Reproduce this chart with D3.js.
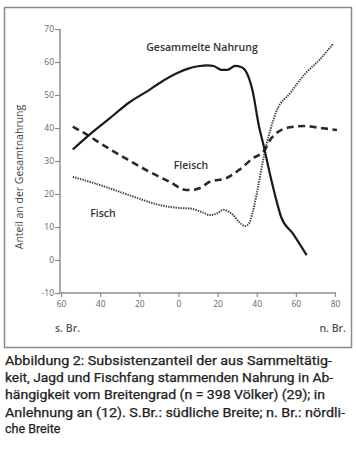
<!DOCTYPE html>
<html><head><meta charset="utf-8">
<script src="https://cdn.jsdelivr.net/npm/d3@7"></script>
<style>
html,body{margin:0;padding:0;background:#fff;}
svg{display:block;}
</style></head>
<body>
<script>
// ---- data ----
const xTicks = [-60,-40,-20,0,20,40,60,80];
const yTicks = [-10,0,10,20,30,40,50,60,70];

const latGathered = [-54,-46,-35,-25,-15,-10,0,5,10,15,18,22,25,29,32,35,38,41,44,46,49,52.5,58.5,65.5];
const gathered    = [33.5,37.7,43,47.8,51.5,53.5,56.8,58,58.7,59,58.8,57.6,57.6,58.8,58.5,56.6,51,41,33.5,28,20.5,13,8,1.5];

const latMeat = [-54,-46,-40,-27,-15,-4.5,4,8,11,16,24.5,31,38,44,47,50,57,64,74,81];
const meat    = [40.4,37.7,35.4,30.8,26.8,23.7,21.2,21.3,21.8,23.7,24.8,27.3,30.8,33.3,36.5,38.4,40.2,40.6,39.9,39.4];

const latFish = [-54,-40,-23,-10,2,6,12,16,20,23,26,28,31,34,36,37.5,40,43,45,47,50,57,65,72,79];
const fish    = [25.2,22.7,19.2,16.7,15.7,15.6,14.5,13.6,14.2,15.2,14.5,13.6,11.5,10.3,11,13.5,20,29.5,35,39.5,45,50.5,56.6,60.6,65.5];

const seriesLabels = ["Gesammelte Nahrung","Fleisch","Fisch"];
const yTitle = "Anteil an der Gesamtnahrung";
const xLeftLabel = "s. Br.", xRightLabel = "n. Br.";
const captionLines = [
  "Abbildung 2: Subsistenzanteil der aus Sammeltätig-",
  "keit, Jagd und Fischfang stammenden Nahrung in Ab-",
  "hängigkeit vom Breitengrad (n = 398 Völker) (29); in",
  "Anlehnung an (12). S.Br.: südliche Breite; n. Br.: nördli-",
  "che Breite"
];

// ---- drawing ----
const W = 356, H = 450;
const svg = d3.select("body").append("svg").attr("width", W).attr("height", H);

svg.append("rect").attr("x",4.5).attr("y",7.5).attr("width",347).attr("height",340)
  .attr("fill","none").attr("stroke","#8a8a8a").attr("stroke-width",1.5);

const x = d3.scaleLinear().domain([-60,80]).range([61,335]);
const y = d3.scaleLinear().domain([-10,70]).range([293,29]);

const axisColor = "#8c8c8c";
const gy = svg.append("g").attr("transform","translate(60,0)")
  .call(d3.axisLeft(y).tickValues(yTicks).tickSize(5).tickPadding(1).tickFormat(d=>String(d)));
const gx = svg.append("g").attr("transform","translate(0,293)")
  .call(d3.axisBottom(x).tickValues(xTicks).tickSize(4).tickPadding(4).tickFormat(d=>Math.abs(d)));
[gx,gy].forEach(g=>{
  g.select(".domain").attr("stroke",axisColor).attr("stroke-width",1.5);
  g.selectAll(".tick line").attr("stroke",axisColor).attr("stroke-width",1.2);
  g.selectAll(".tick text").attr("fill","#666").attr("font-family","Open Sans").attr("font-size",8.5);
});
gx.select(".domain").attr("d","M61,0H336");
gy.select(".domain").attr("d","M0,29V293.75");

const line = d3.line().curve(d3.curveMonotoneX).x(d=>x(d[0])).y(d=>y(d[1]));

svg.append("path").datum(d3.zip(latFish, fish)).attr("d", line)
  .attr("fill","none").attr("stroke","#444").attr("stroke-width",2)
  .attr("stroke-dasharray","1.4,1.1");
svg.append("path").datum(d3.zip(latMeat, meat)).attr("d", line)
  .attr("fill","none").attr("stroke","#2a2a2a").attr("stroke-width",2.6)
  .attr("stroke-dasharray","7,4.5");
svg.append("path").datum(d3.zip(latGathered, gathered)).attr("d", line)
  .attr("fill","none").attr("stroke","#1a1a1a").attr("stroke-width",2.2);

const lab = svg.append("g").attr("font-family","Open Sans").attr("fill","#333").attr("font-weight",600);
lab.append("text").attr("x",202).attr("y",51).attr("text-anchor","middle").attr("font-size",10.5).text(seriesLabels[0]);
lab.append("text").attr("x",191).attr("y",169).attr("text-anchor","middle").attr("font-size",10.5).text(seriesLabels[1]);
lab.append("text").attr("x",103).attr("y",217).attr("text-anchor","middle").attr("font-size",10.5).text(seriesLabels[2]);

svg.append("text").attr("transform","translate(23,177) rotate(-90)").attr("text-anchor","middle")
  .attr("font-family","Open Sans").attr("font-size",10.5).attr("fill","#444").text(yTitle);

svg.append("text").attr("x",55).attr("y",332).attr("font-family","Open Sans").attr("font-size",10.5).attr("font-weight",600).attr("fill","#555").text(xLeftLabel);
svg.append("text").attr("x",346).attr("y",332).attr("text-anchor","end").attr("font-family","Open Sans").attr("font-size",10.5).attr("font-weight",600).attr("fill","#555").text(xRightLabel);

const capY = [364.5, 381.5, 399, 416.5, 433];
const capW = [327, 328, 320, 340, null];
captionLines.forEach((t,i)=>{
  const tx = svg.append("text").attr("x",5).attr("y",capY[i])
    .attr("font-family","Roboto").attr("font-size",12.5).attr("fill","#222")
    .attr("stroke","#222").attr("stroke-width",0.25).text(t);
  if (capW[i]) tx.attr("textLength",capW[i]).attr("lengthAdjust","spacingAndGlyphs");
});
</script>
</body></html>
